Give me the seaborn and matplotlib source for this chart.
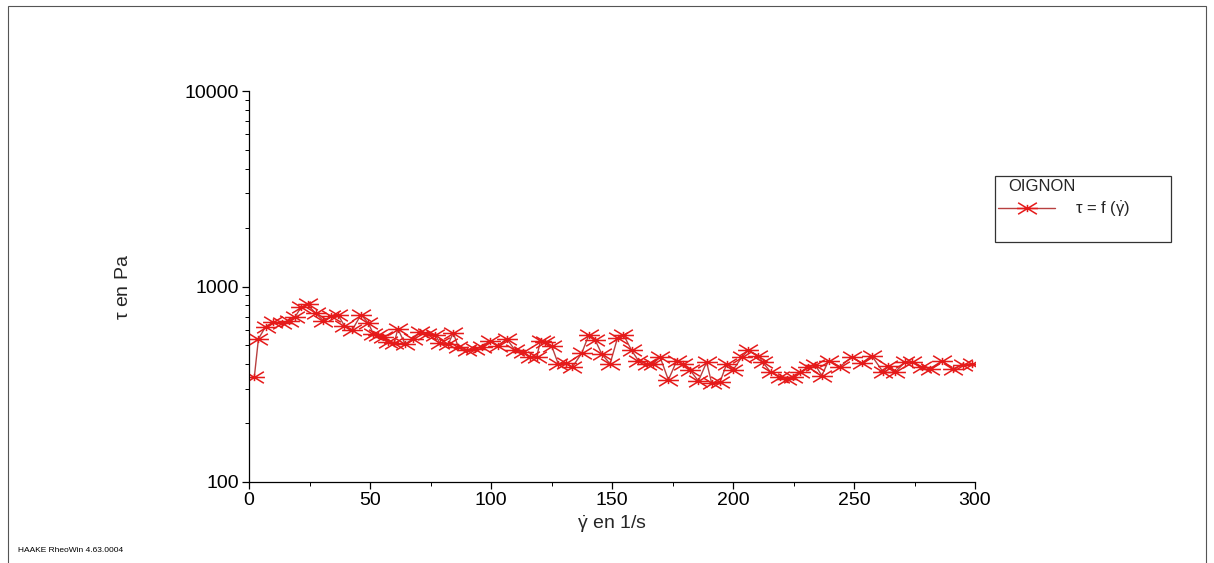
import numpy as np
import pandas as pd
import matplotlib
matplotlib.use("Agg")
import matplotlib.pyplot as plt
from matplotlib.path import Path
from matplotlib.patches import Rectangle
from matplotlib.ticker import FixedLocator, FixedFormatter, LogLocator, NullFormatter, MultipleLocator
import seaborn as sns

# ---- data ----
shear_rate = [2.2, 3.9, 6.9, 10.0, 13.5, 16.5, 19.0, 21.5, 24.2, 27.5, 30.7, 33.9, 36.9,
              39.4, 42.7, 46.3, 49.3, 51.4, 53.4, 55.5, 57.6, 60.0, 61.5, 64.5, 67.9,
              70.7, 73.4, 76.9, 78.9, 82.4, 84.4, 86.5, 90.0, 93.4, 96.2, 99.6, 103.0,
              106.5, 110.0, 113.3, 116.1, 118.9, 120.5, 122.5, 125.0, 127.8, 130.9, 133.6,
              137.5, 140.5, 143.0, 145.7, 149.2, 152.3, 154.7, 158.1, 160.9, 164.3, 167.1,
              169.8, 173.3, 176.7, 179.5, 182.2, 185.7, 189.1, 191.2, 194.6, 197.4, 200.1,
              203.6, 206.3, 210.5, 212.3, 215.6, 219.4, 222.2, 224.9, 227.7, 231.1, 233.9,
              236.7, 239.5, 244.2, 249.0, 253.2, 257.3, 262.1, 264.2, 266.9, 271.1, 273.8,
              278.0, 281.4, 286.2, 291.0, 295.1, 298.6]
shear_stress = [344, 540, 624, 656, 651, 665, 697, 784, 809, 730, 670, 703, 711,
                631, 600, 719, 649, 573, 562, 550, 519, 513, 607, 509, 540,
                584, 573, 568, 513, 509, 580, 489, 471, 480, 493, 529, 499,
                540, 471, 462, 435, 438, 529, 519, 499, 402, 405, 387,
                456, 568, 534, 453, 402, 547, 568, 471, 418, 402, 402,
                438, 333, 415, 402, 375, 328, 410, 320, 324, 402, 375,
                435, 471, 443, 410, 364, 346, 337, 344, 364, 389, 398,
                350, 418, 389, 435, 405, 443, 364, 394, 364, 410, 410,
                389, 380, 415, 380, 398, 402]
x_ticks = [0, 50, 100, 150, 200, 250, 300]
y_ticks = [100, 1000, 10000]
y_tick_labels = ["100", "1000", "10000"]
series_name = "OIGNON"
series_label = r"$\tau$ = f ($\dot{\gamma}$)"

df = pd.DataFrame({"x": shear_rate, "y": shear_stress})

sns.set_theme(style="ticks")
plt.rcParams["font.family"] = ["Liberation Sans", "DejaVu Sans"]
plt.rcParams["mathtext.fontset"] = "custom"
plt.rcParams["mathtext.rm"] = "Liberation Sans"
plt.rcParams["mathtext.it"] = "Liberation Sans"

W, H = 1214, 563
fig = plt.figure(figsize=(W / 100, H / 100), dpi=100)
fig.patch.set_facecolor("white")
ax = fig.add_axes([249 / W, 1 - 482 / H, (975 - 249) / W, (482 - 91) / H])

# asterisk-like marker: horizontal bar, two shallow diagonals, short vertical
verts = [(-1, 0), (1, 0), (-0.9, -0.55), (0.9, 0.55), (-0.9, 0.55), (0.9, -0.55), (0, -0.35), (0, 0.35)]
codes = [Path.MOVETO, Path.LINETO] * 4
star = Path(verts, codes)

sns.lineplot(data=df, x="x", y="y", ax=ax, sort=False, estimator=None,
             color="#b84040", linewidth=1.0,
             marker=star, markersize=15, markeredgecolor="#e51a1a",
             markerfacecolor="none", markeredgewidth=1.1, label=series_label, legend=False)

ax.set_yscale("log")
ax.set_xlim(0, 300)
ax.set_ylim(100, 10000)
ax.xaxis.set_major_locator(FixedLocator(x_ticks))
ax.xaxis.set_minor_locator(MultipleLocator(25))
ax.yaxis.set_major_locator(FixedLocator(y_ticks))
ax.yaxis.set_major_formatter(FixedFormatter(y_tick_labels))
ax.yaxis.set_minor_locator(LogLocator(base=10, subs=np.arange(2, 10)))
ax.yaxis.set_minor_formatter(NullFormatter())

for s in ["top", "right"]:
    ax.spines[s].set_visible(False)
for s in ["left", "bottom"]:
    ax.spines[s].set_color("black")
    ax.spines[s].set_linewidth(0.9)
ax.tick_params(axis="both", which="major", direction="out", length=5, width=0.9,
               colors="black", labelsize=14, pad=2)
ax.tick_params(axis="both", which="minor", direction="out", length=3, width=0.7, colors="black")
ax.grid(False)
ax.set_facecolor("white")

ax.set_xlabel(r"$\dot{\gamma}$ en 1/s", fontsize=14, labelpad=3)
ax.set_ylabel(r"$\tau$ en Pa", fontsize=14, labelpad=38)

handles, labels = ax.get_legend_handles_labels()
blank = plt.Line2D([], [], color="none")
leg = fig.legend(handles=[handles[0], blank], labels=[series_label, " "],
                 title=series_name, loc="upper left",
                 bbox_to_anchor=(995 / W, 1 - 176 / H - 0.01, (1171 - 995) / W, 0.01),
                 mode="expand", frameon=True, fancybox=False, alignment="left",
                 handlelength=3.4, handletextpad=1.2, fontsize=12, title_fontsize=12,
                 borderpad=0.2, labelspacing=0.3, borderaxespad=0)
leg.get_frame().set_edgecolor("black")
leg.get_frame().set_linewidth(0.9)
leg.get_title().set_position((10, 0))

# figure frame (left / top / right edges)
fig.add_artist(Rectangle((8 / W, -0.05), (1206 - 8) / W, 1.05 - 6 / H,
                         transform=fig.transFigure, fill=False,
                         edgecolor="#555555", linewidth=0.8))

fig.text(18 / W, 1 - 551 / H, "HAAKE RheoWin 4.63.0004", fontsize=6, color="black",
         va="center", ha="left")

fig.savefig("out.png", dpi=100, facecolor="white")
